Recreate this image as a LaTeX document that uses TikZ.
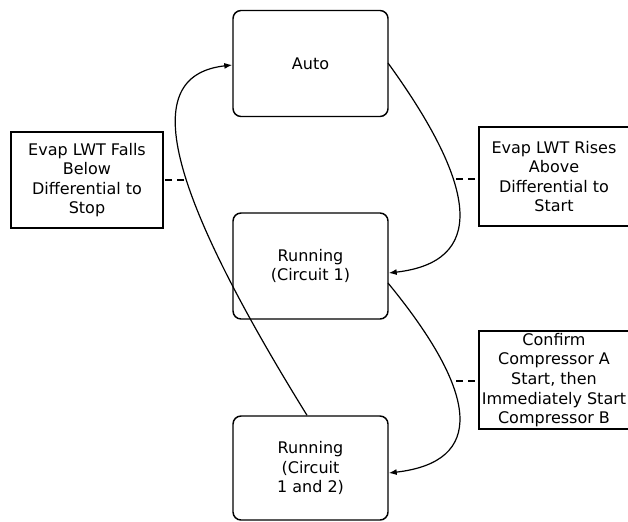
\documentclass[tikz,border=0pt]{standalone}
\usepackage{fontspec}
\setmainfont{DejaVu Sans}
\usetikzlibrary{arrows.meta, positioning}

\begin{document}
\begin{tikzpicture}[
    x=0.75pt, y=-0.75pt,
    state/.style={rounded corners=6pt, draw, line width=1.1pt, minimum width=116.25pt, minimum height=79.5pt, align=center, font=\fontsize{12}{14.7}\selectfont},
    cond/.style={draw, line width=1pt, minimum width=114pt, minimum height=72pt, align=center, inner sep=1pt, font=\fontsize{12}{14.7}\selectfont},
    trans/.style={-{Latex[length=6pt, width=4.5pt]}, line width=0.9pt},
    link/.style={dash pattern=on 5pt off 4pt, line width=1pt},
]
\useasboundingbox (0,0) rectangle (628,521);

\node[state] (auto) at (310.5, 63.5) {Auto};
\node[state] (run1) at (310.5, 266) {Running\\(Circuit 1)};
\node[state, minimum height=78pt] (run2) at (310.5, 468) {Running\\(Circuit\\1 and 2)};

\node[cond] (stop) at (87, 180) {Evap LWT Falls\\Below\\Differential to\\Stop};
\node[cond, minimum width=112.5pt, minimum height=74.25pt] (start) at (554, 176.5) {Evap LWT Rises\\Above\\Differential to\\Start};
\node[cond, minimum width=112.5pt, minimum height=73.5pt] (confirm) at (554, 380) {Confirm\\Compressor A\\Start, then\\Immediately Start\\Compressor B};

\coordinate (c1) at (456, 179);
\coordinate (c2) at (456, 381);
\coordinate (c3) at (184, 180);

\draw[trans] (388, 63) .. controls (480, 190) and (485, 262) .. (run1.east |- 0, 273);
\draw[trans] (388, 283) .. controls (480, 395) and (485, 462) .. (run2.east |- 0, 473);
\draw[trans] (run2.north -| 307, 0) .. controls (157, 173) and (143, 75) .. (auto.west |- 0, 65);

\draw[link] (c1) -- (start.west |- c1);
\draw[link] (c2) -- (confirm.west |- c2);
\draw[link] (c3) -- (stop.east);

\end{tikzpicture}
\end{document}
